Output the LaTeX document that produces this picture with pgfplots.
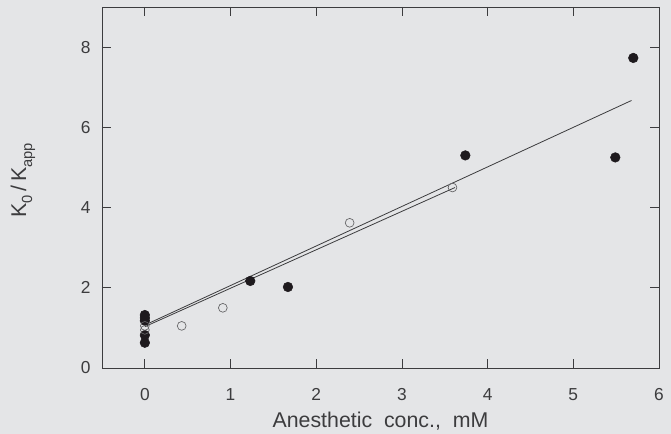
\documentclass[border=0pt]{standalone}
\usepackage{fontspec}
\setmainfont{Liberation Sans}
\usepackage{pgfplots}
\pgfplotsset{compat=1.18}
\definecolor{bg}{RGB}{228,229,231}
\definecolor{ink}{RGB}{60,60,62}
\definecolor{dot}{RGB}{30,26,30}
\newcommand{\sub}[1]{\raisebox{-0.55ex}{\fontsize{11}{12}\selectfont #1}}
\begin{document}
\begin{tikzpicture}
\path[use as bounding box, fill=bg] (0,0) rectangle (503.25pt,325.5pt);
\begin{axis}[
  at={(76.5pt,49.5pt)}, anchor=south west,
  scale only axis, width=417.75pt, height=270.75pt,
  xmin=-0.5, xmax=6, ymin=0, ymax=9,
  xtick={0,1,2,3,4,5,6}, ytick={0,2,4,6,8},
  tick align=inside, major tick length=6.5pt,
  axis line style={ink, line width=0.6pt},
  every tick/.style={ink, line width=0.6pt},
  tick label style={font=\fontsize{13}{15}\selectfont, text=ink},
  /pgf/number format/assume math mode=true,
  xticklabel style={yshift=-12pt},
  yticklabel style={xshift=-5pt},
  xlabel={Anesthetic\ \ conc.,\ \ mM},
  xlabel style={at={(axis description cs:0.5,-0.147)}, anchor=center, font=\fontsize{16}{18}\selectfont, text=ink},
  ylabel={K\sub{0}\,/\,K\sub{app}},
  ylabel style={at={(axis description cs:-0.142,0.52)}, anchor=center, font=\fontsize{16}{18}\selectfont, text=ink},
  clip=false,
]
\addplot[ink, line width=0.6pt] coordinates {(0,1.07) (5.68,6.67)};
\addplot[ink, line width=0.6pt] coordinates {(0,1.03) (3.62,4.50)};
\addplot[only marks, mark=*, mark size=3.6pt, mark options={fill=dot, draw=dot}] coordinates {
(0,1.32) (0,1.25) (0,1.18) (0,0.82) (0,0.63) (1.23,2.17) (1.67,2.02) (3.74,5.30) (5.49,5.25) (5.70,7.73)};
\addplot[only marks, mark=o, mark size=3.3pt, mark options={draw=ink!80, fill=bg, line width=0.5pt}] coordinates {
(0,1.05) (0,0.95) (0.43,1.05) (0.91,1.50) (2.39,3.62) (3.59,4.50)};
\end{axis}
\end{tikzpicture}
\end{document}
